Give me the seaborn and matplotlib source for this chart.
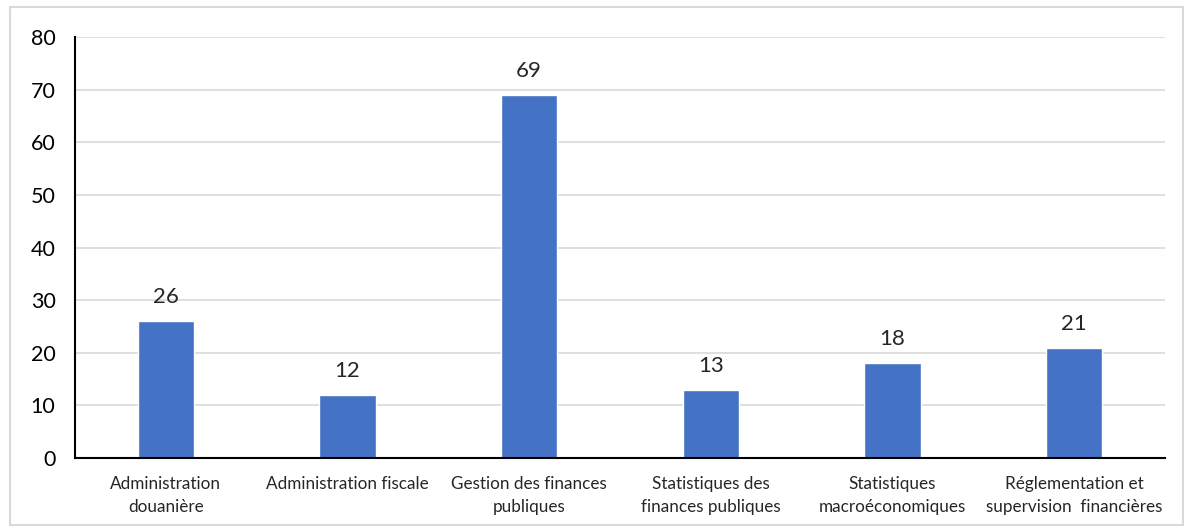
import pandas as pd
import seaborn as sns
import matplotlib.pyplot as plt
from matplotlib.patches import Rectangle

categories = ['Administration\ndouanière', 'Administration fiscale', 'Gestion des finances\npubliques',
              'Statistiques des\nfinances publiques', 'Statistiques\nmacroéconomiques',
              'Réglementation et\nsupervision  financières']
values = [26, 12, 69, 13, 18, 21]

df = pd.DataFrame({'cat': categories, 'val': values})

sns.set_theme(style='white')
plt.rcParams['font.family'] = ['Lato', 'DejaVu Sans']

fig = plt.figure(figsize=(11.9, 5.29), dpi=100)
ax = fig.add_axes([0.063, 0.134, 0.916, 0.796])
sns.barplot(x='cat', y='val', data=df, color='#4472C4', width=0.31, saturation=1, ax=ax)

ax.set_ylim(0, 80)
ax.set_yticks(range(0, 81, 10))
ax.yaxis.grid(True, color='#D9D9D9', linewidth=1.2)
ax.set_axisbelow(True)
for s in ['top', 'right']:
    ax.spines[s].set_visible(False)
ax.spines['left'].set_color('black')
ax.spines['bottom'].set_color('black')
ax.spines['left'].set_linewidth(1.5)
ax.spines['bottom'].set_linewidth(1.5)
ax.set_xlabel('')
ax.set_ylabel('')
ax.tick_params(axis='y', labelsize=15.5, length=0, pad=14, colors='#000000')
ax.tick_params(axis='x', labelsize=12.3, length=0, pad=13)
for lbl in ax.get_xticklabels():
    lbl.set_color('#262626')
    lbl.set_linespacing(1.5)

for i, v in enumerate(values):
    ax.annotate(str(v), (i, v), xytext=(0, 10), textcoords='offset points',
                ha='center', va='bottom', fontsize=16)

fig.patches.append(Rectangle((0.008, 0.008), 0.986, 0.978, transform=fig.transFigure,
                             fill=False, edgecolor='#D9D9D9', linewidth=1.5))

fig.savefig('out.png', dpi=100)
